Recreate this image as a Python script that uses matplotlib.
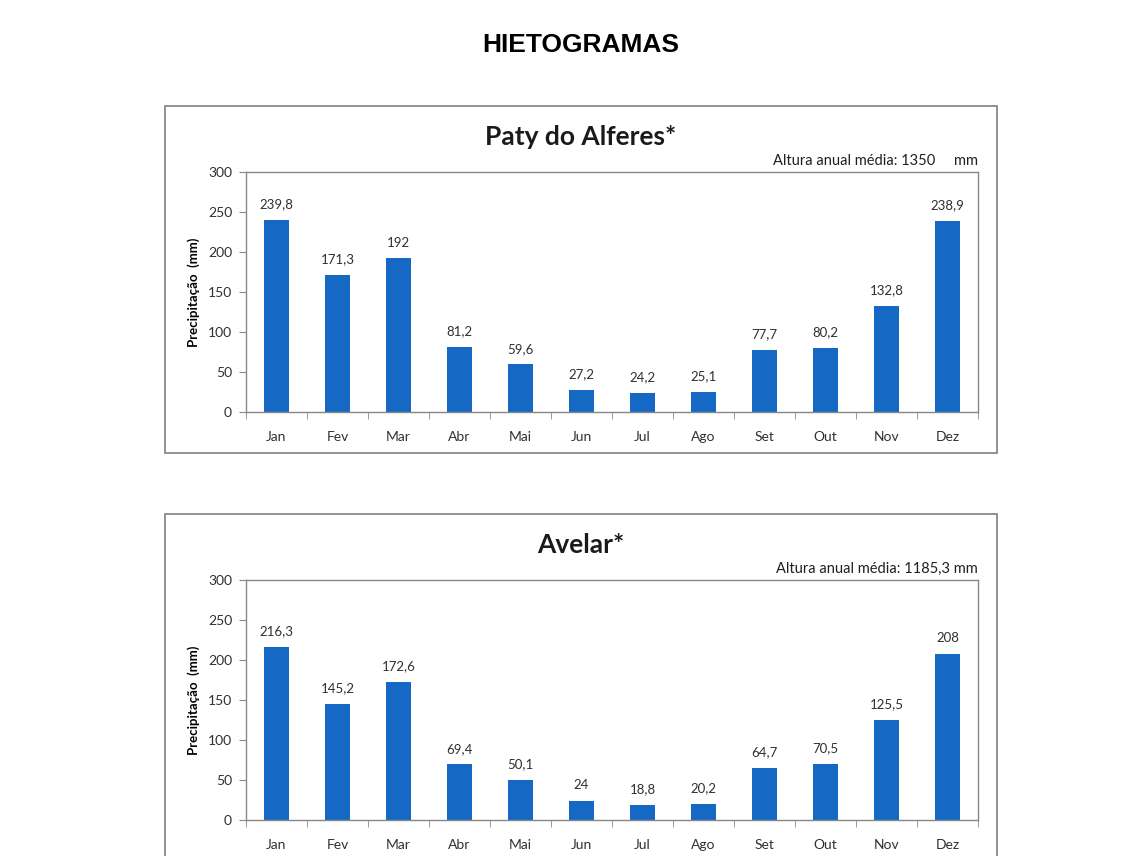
import numpy as np
import matplotlib.pyplot as plt
from matplotlib.patches import Rectangle

meses = ["Jan", "Fev", "Mar", "Abr", "Mai", "Jun", "Jul", "Ago", "Set", "Out", "Nov", "Dez"]
paty = [239.8, 171.3, 192, 81.2, 59.6, 27.2, 24.2, 25.1, 77.7, 80.2, 132.8, 238.9]
avelar = [216.3, 145.2, 172.6, 69.4, 50.1, 24, 18.8, 20.2, 64.7, 70.5, 125.5, 208]
titulos = ["Paty do Alferes*", "Avelar*"]
alturas = ["Altura anual média: 1350     mm", "Altura anual média: 1185,3 mm"]

W, H = 1124, 856
fig = plt.figure(figsize=(W / 100, H / 100), dpi=100)
plt.rcParams['font.family'] = ['Lato', 'DejaVu Sans']

fig.text(581 / W, 1 - 45 / H, "HIETOGRAMAS", ha='center', va='center',
         fontsize=19, fontweight='bold', family='Liberation Sans')

bar_color = '#1569c5'
spine_color = '#888888'


def fmt(v):
    return f"{v:g}".replace('.', ',')


def hietograma(top_box, dados, titulo, altura):
    # caixa do gráfico (coordenadas em pixels, origem em cima)
    box_h = 347
    fig.patches.append(Rectangle((165 / W, 1 - (top_box + box_h) / H), 832 / W, box_h / H,
                                 transform=fig.transFigure, fill=False,
                                 edgecolor='#7f7f7f', linewidth=1.2))
    ax_top = top_box + 66
    ax = fig.add_axes([246 / W, 1 - (ax_top + 240) / H, 732 / W, 240 / H])
    x = np.arange(len(meses))
    bars = ax.bar(x, dados, width=0.4, color=bar_color)
    for b, v in zip(bars, dados):
        ax.text(b.get_x() + b.get_width() / 2, v + 12, fmt(v), ha='center', va='bottom',
                fontsize=9.5, color='#303030')
    ax.set_xlim(-0.5, len(meses) - 0.5)
    ax.set_ylim(0, 300)
    ax.set_yticks(range(0, 301, 50))
    ax.set_xticks(x)
    ax.set_xticklabels(meses)
    ax.set_xticks(np.arange(-0.5, len(meses), 1), minor=True)
    ax.tick_params(axis='x', which='major', length=0, pad=14, labelsize=10, labelcolor='#303030')
    ax.tick_params(axis='x', which='minor', length=5, color=spine_color, direction='out')
    ax.tick_params(axis='y', length=5, color=spine_color, labelsize=10, labelcolor='#303030', pad=5)
    for s in ax.spines.values():
        s.set_color(spine_color)
        s.set_linewidth(1)
    ax.set_ylabel("Precipitação  (mm)", fontsize=9.5, fontweight='bold', labelpad=6)
    fig.text(581 / W, 1 - (top_box + 31) / H, titulo, ha='center', va='center',
             fontsize=19, fontweight='bold', color='#1a1a1a')
    fig.text(978 / W, 1 - (top_box + 55) / H, altura, ha='right', va='center',
             fontsize=10.5, color='#202020')


hietograma(106, paty, titulos[0], alturas[0])
hietograma(514, avelar, titulos[1], alturas[1])

fig.savefig("out.png", dpi=100)
